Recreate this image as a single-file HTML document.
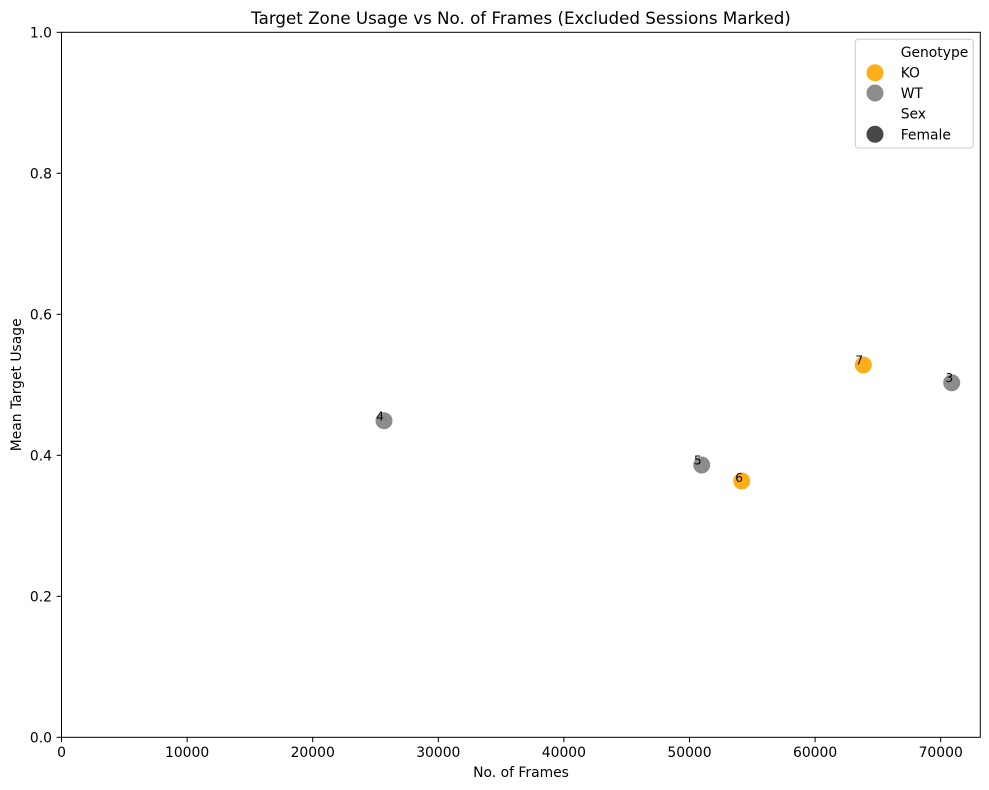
<!DOCTYPE html>
<html>
<head>
<meta charset="utf-8">
<style>
  html, body { margin: 0; padding: 0; background: #ffffff; }
  svg { display: block; }
  text { font-family: "DejaVu Sans", "Liberation Sans", sans-serif; fill: #000; }
</style>
</head>
<body>
<svg width="989" height="790" viewBox="0 0 989 790" xmlns="http://www.w3.org/2000/svg">
  <rect x="0" y="0" width="989" height="790" fill="#ffffff"/>

  <!-- Title -->
  <text x="521" y="24" font-size="16.7" text-anchor="middle">Target Zone Usage vs No. of Frames (Excluded Sessions Marked)</text>

  <!-- Points -->
  <g stroke="#ffffff" stroke-width="1">
    <circle cx="863.3" cy="365" r="9" fill="#ffa500" fill-opacity="0.9"/>
    <circle cx="951.7" cy="382.7" r="9" fill="#808080" fill-opacity="0.9"/>
    <circle cx="701.7" cy="465" r="9" fill="#808080" fill-opacity="0.9"/>
    <circle cx="741.7" cy="481" r="9" fill="#ffa500" fill-opacity="0.9"/>
    <circle cx="384" cy="420.7" r="9" fill="#808080" fill-opacity="0.9"/>
  </g>

  <!-- Point labels -->
  <g font-size="12">
    <text x="855.5" y="364.3">7</text>
    <text x="945.5" y="382">3</text>
    <text x="694" y="464.5">5</text>
    <text x="735.3" y="481.8">6</text>
    <text x="376.3" y="420.3">4</text>
  </g>

  <!-- Axes frame -->
  <rect x="61.5" y="32.3" width="918.8" height="705" fill="none" stroke="#000" stroke-width="1"/>

  <!-- X ticks -->
  <g stroke="#000" stroke-width="1">
    <line x1="61.5" y1="737.3" x2="61.5" y2="742.2"/>
    <line x1="187.1" y1="737.3" x2="187.1" y2="742.2"/>
    <line x1="312.7" y1="737.3" x2="312.7" y2="742.2"/>
    <line x1="438.3" y1="737.3" x2="438.3" y2="742.2"/>
    <line x1="563.9" y1="737.3" x2="563.9" y2="742.2"/>
    <line x1="689.5" y1="737.3" x2="689.5" y2="742.2"/>
    <line x1="815.1" y1="737.3" x2="815.1" y2="742.2"/>
    <line x1="940.7" y1="737.3" x2="940.7" y2="742.2"/>
  </g>
  <g font-size="13.9" text-anchor="middle">
    <text x="61.5" y="757">0</text>
    <text x="187.1" y="757">10000</text>
    <text x="312.7" y="757">20000</text>
    <text x="438.3" y="757">30000</text>
    <text x="563.9" y="757">40000</text>
    <text x="689.5" y="757">50000</text>
    <text x="815.1" y="757">60000</text>
    <text x="940.7" y="757">70000</text>
  </g>
  <text x="521" y="777" font-size="13.9" text-anchor="middle">No. of Frames</text>

  <!-- Y ticks -->
  <g stroke="#000" stroke-width="1">
    <line x1="56.6" y1="737.3" x2="61.5" y2="737.3"/>
    <line x1="56.6" y1="596.3" x2="61.5" y2="596.3"/>
    <line x1="56.6" y1="455.3" x2="61.5" y2="455.3"/>
    <line x1="56.6" y1="314.3" x2="61.5" y2="314.3"/>
    <line x1="56.6" y1="173.3" x2="61.5" y2="173.3"/>
    <line x1="56.6" y1="32.3" x2="61.5" y2="32.3"/>
  </g>
  <g font-size="13.9" text-anchor="end">
    <text x="52" y="742.3">0.0</text>
    <text x="52" y="601.3">0.2</text>
    <text x="52" y="460.3">0.4</text>
    <text x="52" y="319.3">0.6</text>
    <text x="52" y="178.3">0.8</text>
    <text x="52" y="37.3">1.0</text>
  </g>
  <text transform="translate(21,384.8) rotate(-90)" font-size="13.9" text-anchor="middle">Mean Target Usage</text>

  <!-- Legend -->
  <rect x="855.3" y="39.3" width="118" height="108.7" rx="3" ry="3" fill="#ffffff" fill-opacity="0.8" stroke="#cccccc" stroke-width="1"/>
  <g font-size="13.9">
    <text x="900.7" y="57.2">Genotype</text>
    <text x="900.7" y="77.7">KO</text>
    <text x="900.7" y="98">WT</text>
    <text x="900.7" y="118.6">Sex</text>
    <text x="900.7" y="139.3">Female</text>
  </g>
  <g stroke="#ffffff" stroke-width="1">
    <circle cx="875" cy="72.7" r="9" fill="#ffa500" fill-opacity="0.9"/>
    <circle cx="875" cy="93" r="9" fill="#808080" fill-opacity="0.9"/>
    <circle cx="875" cy="134.3" r="9" fill="#333333" fill-opacity="0.9"/>
  </g>
</svg>
</body>
</html>
